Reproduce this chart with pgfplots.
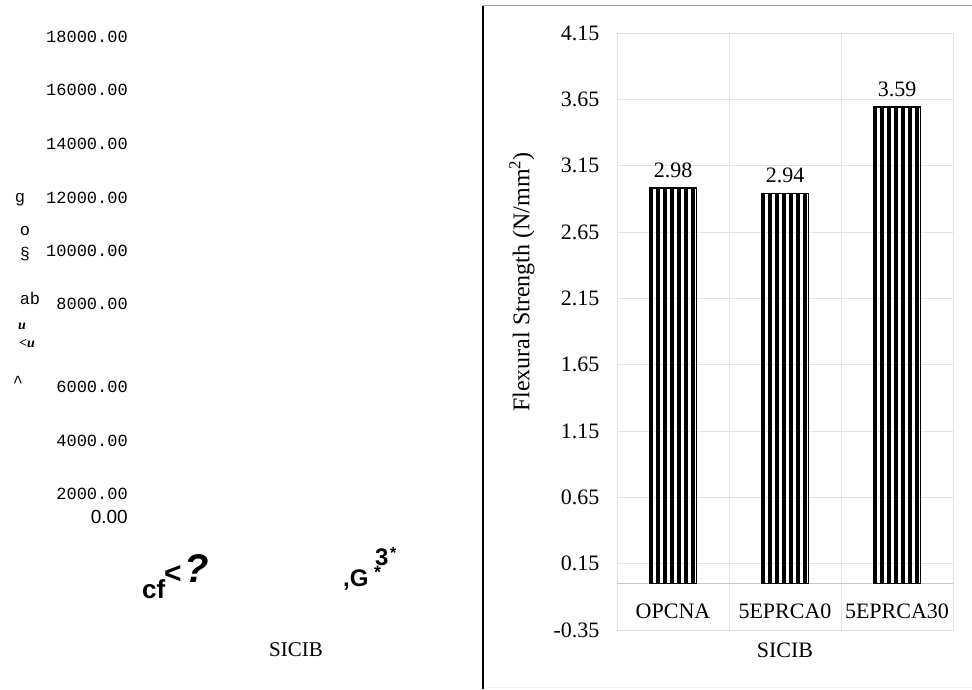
\documentclass[border=0pt]{standalone}
\usepackage{pgfplots}
\pgfplotsset{compat=1.18}
\usepackage{fontspec}
\setmainfont{Liberation Serif}
\newfontfamily\monofont{Liberation Mono}
\newfontfamily\sansfont{Liberation Sans}
\usetikzlibrary{patterns.meta}
\begin{document}
\begin{tikzpicture}[x=1pt,y=1pt]
\path[use as bounding box] (0,0) rectangle (972,689);
% panel frame
\draw[black, line width=1.5pt] (483,0) -- (483,683);
\draw[gray!70, line width=1pt] (483,683) -- (972,683);
\draw[gray!12, line width=1pt] (486,2) -- (972,2);

% ---------- left (garbled) panel ----------
\begin{axis}[
  at={(128pt,172pt)}, anchor=south west, scale only axis,
  width=342pt, height=480pt,
  xmin=128, xmax=470, ymin=172, ymax=652,
  axis line style={draw=none}, clip=false,
  xtick=\empty,
  ytick={172,195,248,302,385,438,491,545,599,652},
  yticklabels={{\sansfont\fontsize{19}{19}\selectfont 0.00},2000.00,4000.00,6000.00,8000.00,10000.00,12000.00,14000.00,16000.00,18000.00},
  yticklabel style={font=\monofont\fontsize{17}{17}\selectfont, anchor=east, inner sep=0pt},
  major tick length=0pt,
]
\node[font=\monofont\fontsize{17}{17}\selectfont, anchor=center] at (axis cs:20,489) {g};
\node[font=\monofont\fontsize{17}{17}\selectfont, anchor=center] at (axis cs:25,458) {o};
\node[font=\monofont\fontsize{17}{17}\selectfont, anchor=center] at (axis cs:25,435) {\S};
\node[font=\monofont\fontsize{17}{17}\selectfont, anchor=center] at (axis cs:30,391) {ab};
\node[font=\bfseries\itshape\fontsize{14}{14}\selectfont, anchor=center] at (axis cs:22,363) {u};
\node[font=\bfseries\itshape\fontsize{14}{14}\selectfont, anchor=center] at (axis cs:27,345) {<u};
\node[font=\monofont\fontsize{17}{17}\selectfont, anchor=north, inner sep=0pt] at (axis cs:18,313) {\^{}};
% x tick label garble
\node[font=\sansfont\bfseries\fontsize{26}{26}\selectfont, anchor=base west, inner sep=0pt] at (axis cs:142,91) {cf};
\node[font=\sansfont\bfseries\fontsize{30}{30}\selectfont, anchor=center, inner sep=0pt] at (axis cs:173,115) {<};
\node[font=\sansfont\bfseries\itshape\fontsize{40}{40}\selectfont, anchor=base west, inner sep=0pt] at (axis cs:184,107) {?};
\node[font=\sansfont\bfseries\fontsize{24}{24}\selectfont, anchor=base west, inner sep=0pt] at (axis cs:343,103) {,G};
\node[font=\sansfont\bfseries\fontsize{24}{24}\selectfont, anchor=base west, inner sep=0pt] at (axis cs:375,124) {3};
\node[font=\sansfont\bfseries\fontsize{16}{16}\selectfont, anchor=north west, inner sep=0pt] at (axis cs:390,142) {*};
\node[font=\sansfont\bfseries\fontsize{18}{18}\selectfont, anchor=north west, inner sep=0pt] at (axis cs:374,123) {*};
\node[font=\fontsize{21}{21}\selectfont, anchor=center] at (axis cs:296,39) {SICIB};
\end{axis}

% ---------- right panel: bar chart ----------
\begin{axis}[
  at={(617pt,59pt)}, anchor=south west, scale only axis,
  width=336pt, height=597pt,
  ybar,
  xmin=0, xmax=3, ymin=-0.35, ymax=4.15,
  axis line style={gray!25, line width=0.8pt},
  xtick={0.5,1.5,2.5}, xticklabels={OPCNA,5EPRCA0,5EPRCA30},
  minor xtick={1,2}, xminorgrids=true,
  ytick={-0.35,0.15,0.65,1.15,1.65,2.15,2.65,3.15,3.65,4.15},
  ymajorgrids=true,
  grid style={gray!22, line width=0.8pt},
  extra y ticks={0}, extra y tick labels={},
  extra y tick style={ymajorgrids=true, major grid style={gray!45, line width=1pt}},
  major tick length=0pt, minor tick length=0pt,
  tick label style={font=\fontsize{22}{24}\selectfont},
  yticklabel style={/pgf/number format/fixed, /pgf/number format/fixed zerofill, /pgf/number format/precision=2, /pgf/number format/assume math mode=true, xshift=-14pt},
  xticklabel style={anchor=center, yshift=19pt},
  xlabel={SICIB},
  xlabel style={font=\fontsize{22}{24}\selectfont, anchor=center, at={(axis description cs:0.5,-0.0335)}},
  ylabel={Flexural Strength (N/mm\textsuperscript{2})},
  ylabel style={font=\fontsize{24}{26}\selectfont, anchor=center, at={(axis description cs:-0.283,0.583)}},
  clip=false,
]
\addplot[ybar, bar width=47pt, draw=black, line width=1.8pt,
  pattern={Lines[angle=90,distance=7pt,line width=4pt]}, pattern color=black,
  nodes near coords={\pgfmathprintnumber[assume math mode=true,fixed,fixed zerofill,precision=2]{\pgfplotspointmeta}},
  every node near coord/.append style={font=\fontsize{22}{24}\selectfont, yshift=6pt}]
  coordinates {(0.5,2.98) (1.5,2.94) (2.5,3.59)};
\end{axis}
\end{tikzpicture}
\end{document}
